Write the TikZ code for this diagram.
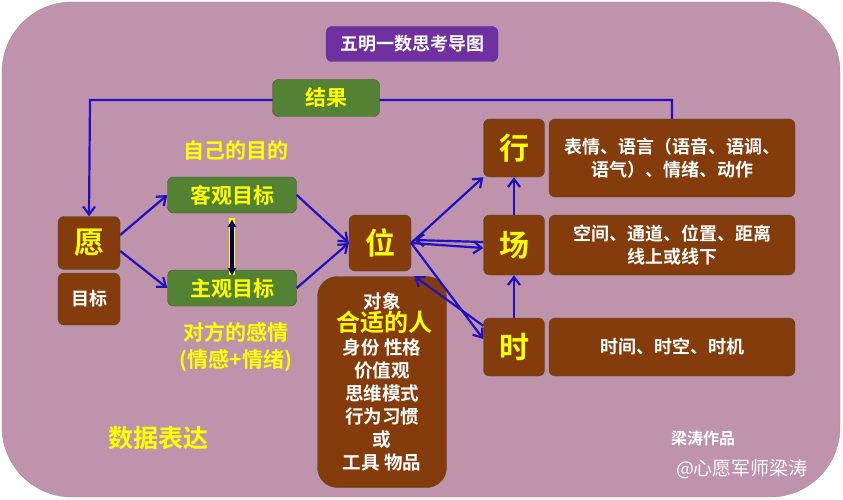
\documentclass[tikz,border=0pt]{standalone}
\usepackage{fontspec}
\setmainfont{Noto Sans CJK SC}[BoldFont={* Bold}]
\usetikzlibrary{positioning,arrows.meta}
\definecolor{bgpink}{HTML}{BF93AB}
\definecolor{brn}{HTML}{843C0C}
\definecolor{grn}{HTML}{548235}
\definecolor{purp}{HTML}{7030A0}
\definecolor{blu}{HTML}{2010C0}
\definecolor{yel}{HTML}{FFFF00}
\newcommand{\fs}[1]{\fontsize{#1}{\fpeval{#1*1.25}}\selectfont}
\tikzset{
  box/.style={draw=grn!70!black, rounded corners=6pt, text=yel, font=\bfseries, align=center, inner sep=0pt},
  brnbox/.style={box, fill=brn, font=\bfseries\fs{30}},
  descbox/.style={box, fill=brn, text=white, font=\bfseries\fs{18}},
  grnbox/.style={box, fill=grn, font=\bfseries\fs{21}},
  link/.style={blu, line width=2.2pt, -{Straight Barb[length=8pt,width=12pt]}},
}
\begin{document}
\begin{tikzpicture}[x=1pt,y=-1pt]
\useasboundingbox (0,0) rectangle (843,500);
\fill[white] (0,0) rectangle (843,500);
\draw[bgpink!80!grn, fill=bgpink, rounded corners=70pt] (2,2) rectangle (840,497);

\node[box, fill=purp, draw=blue!50!gray, text=white, font=\bfseries\fs{18}, minimum width=172pt, minimum height=35pt] (title) at (412,44) {五明一数思考导图};

% left side
\node[brnbox, minimum width=62pt, minimum height=53pt] (yuan) at (89,243) {愿};
\node[descbox, minimum width=62pt, minimum height=52pt] (mubiao) at (89,299) {目标};
\node[grnbox, minimum width=129pt, minimum height=36pt] (keguan) at (232,195) {客观目标};
\node[grnbox, minimum width=129pt, minimum height=36pt] (zhuguan) at (232,288) {主观目标};
\node[text=yel, font=\bfseries\fs{21}] (ziji) at (236,150) {自己的目的};
\node[text=yel, font=\bfseries\fs{21}, align=center] (duifang) at (236,347) {对方的感情\\(情感+情绪)};

% middle
\node[brnbox, minimum width=62pt, minimum height=56pt] (wei) at (380,243) {位};
\node[descbox, minimum width=129pt, minimum height=211pt, rounded corners=20pt, font=\bfseries\fs{18.5}] (duixiang) at (382,382)
  {对象\\{\color{yel}\fs{24} 合适的人}\\身份 性格\\价值观\\思维模式\\行为习惯\\或\\工具 物品};

% right side
\node[brnbox, minimum width=61pt, minimum height=58pt] (xing) at (514,148) {行};
\node[brnbox, minimum width=61pt, minimum height=60pt] (chang) at (514,245) {场};
\node[brnbox, minimum width=61pt, minimum height=58pt] (shi) at (514,347) {时};
\node[descbox, minimum width=246pt, minimum height=78pt] (xingd) at (672,158) {表情、语言（语音、语调、\\语气）、情绪、动作};
\node[descbox, minimum width=246pt, minimum height=60pt] (changd) at (672,245) {空间、通道、位置、距离\\线上或线下};
\node[descbox, minimum width=246pt, minimum height=58pt] (shid) at (672,347) {时间、时空、时机};

\node[text=yel, font=\bfseries\fs{25}] (shuju) at (158,438) {数据表达};
\node[text=white, font=\bfseries\fs{16}] (zuopin) at (703,438) {梁涛作品};
\node[text=white, font=\fs{19}] (wm) at (742,469) {@心愿军师梁涛};

% loop back
\draw[link] (xingd.north) -- (xingd.north |- 0,100) -- (90,100) -- (yuan.north);
\node[grnbox, minimum width=107pt, minimum height=37pt] (jieguo) at (326,98) {结果};

\draw[link] (yuan.east) ++(0,-8) -- (keguan.west);
\draw[link] (yuan.east) ++(0,8) -- (zhuguan.west);
\draw[link] (keguan.east) -- (wei.west);
\draw[link] (zhuguan.east) -- (wei.west);
\draw[yel, line width=6pt] (keguan.south) ++(0,5) -- ([yshift=-5pt]zhuguan.north);
\draw[black!70!blue, line width=3.5pt, {Latex[length=8pt,width=10pt]}-{Latex[length=8pt,width=10pt]}] (keguan.south) ++(0,6) -- ([yshift=-6pt]zhuguan.north);

\draw[link] (wei.east) -- (xing.south west);
\draw[link] (wei.east) -- ([yshift=-3pt]chang.west);
\draw[link] ([yshift=3pt]chang.west) -- ([xshift=3pt,yshift=3pt]wei.east);
\draw[link] (wei.east) -- ([yshift=8pt]shi.west);
\draw[link] ([yshift=-8pt]shi.north west) -- ([xshift=3pt,yshift=-5pt]wei.south east);
\draw[link] (shi.north) -- (chang.south);
\draw[link] (chang.north) -- (xing.south);
\end{tikzpicture}
\end{document}
